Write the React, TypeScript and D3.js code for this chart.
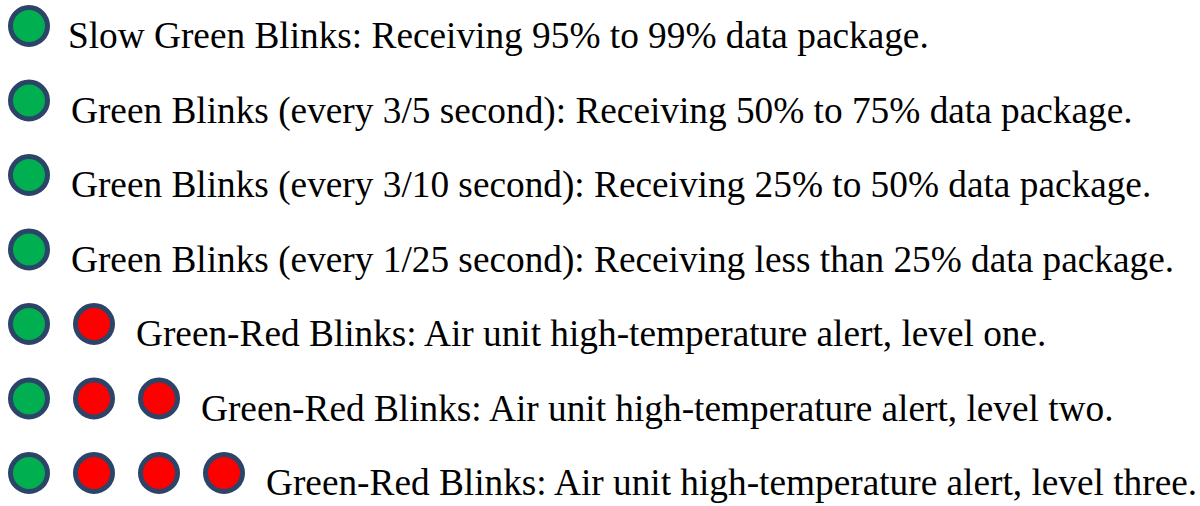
import * as d3 from "d3";

// legend rows: label text, number of red dots after the green one
const labels = [
  "Slow Green Blinks: Receiving 95% to 99% data package.",
  "Green Blinks (every 3/5 second): Receiving 50% to 75% data package.",
  "Green Blinks (every 3/10 second): Receiving 25% to 50% data package.",
  "Green Blinks (every 1/25 second): Receiving less than 25% data package.",
  "Green-Red Blinks: Air unit high-temperature alert, level one.",
  "Green-Red Blinks: Air unit high-temperature alert, level two.",
  "Green-Red Blinks: Air unit high-temperature alert, level three.",
];
const redDots = [0, 0, 0, 0, 1, 2, 3];

const GREEN = "#00B050";
const RED = "#FF0000";
const RING = "#2B4468";

export default function App() {
  const width = 1200;
  const height = 506;

  const rows = labels.map((label, i) => ({
    label,
    dots: [GREEN, ...d3.range(redDots[i]).map(() => RED)],
  }));

  const y = d3
    .scalePoint<number>()
    .domain(d3.range(rows.length))
    .range([26, 473]);

  const x = d3.scaleLinear().domain([0, 1]).range([29, 94]);
  const r = 18.5;

  return (
    <svg
      width={width}
      height={height}
      style={{ position: "absolute", left: 0, top: 0, background: "#fff" }}
    >
      {rows.map((row, i) => (
        <g key={i} transform={`translate(0,${y(i)})`}>
          {row.dots.map((c, j) => (
            <circle
              key={j}
              cx={x(j)}
              cy={0}
              r={r}
              fill={c}
              stroke={RING}
              strokeWidth={5}
            />
          ))}
          <text
            x={x(row.dots.length - 1) + (i === 0 ? 39 : 42)}
            y={22}
            fontSize={37.3}
            fill="#000"
            style={{ fontFamily: "Liberation Serif" }}
          >
            {row.label}
          </text>
        </g>
      ))}
    </svg>
  );
}
